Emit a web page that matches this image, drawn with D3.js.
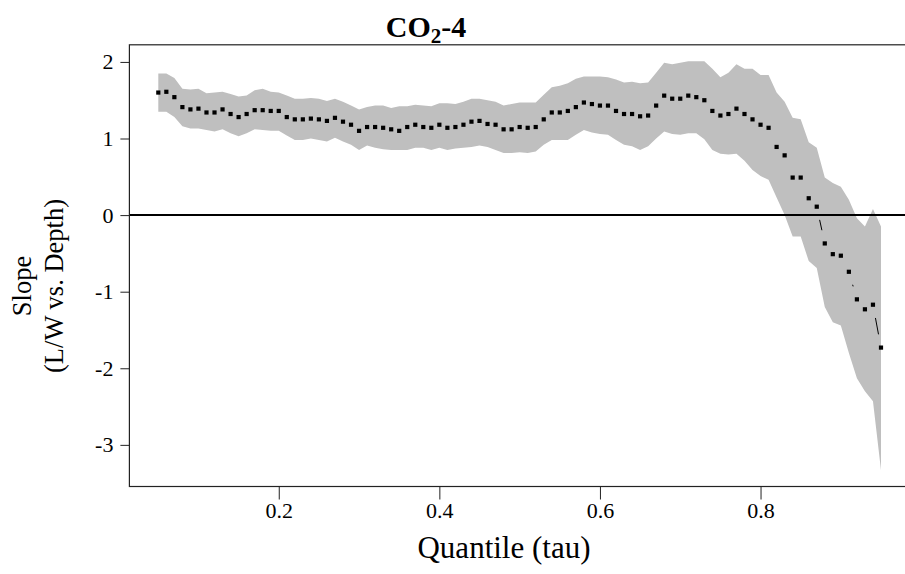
<!DOCTYPE html>
<html>
<head>
<meta charset="utf-8">
<script src="https://cdn.jsdelivr.net/npm/d3@7"></script>
<style>
  body { margin: 0; background: #fff; overflow: hidden; }
  text { font-family: "Liberation Serif", "Times New Roman", serif; }
</style>
</head>
<body>
<div id="rq"></div>
<script>
// quantiles and rq slope estimates with confidence band
var tau = [0.05, 0.06, 0.07, 0.08, 0.09, 0.10, 0.11, 0.12, 0.13, 0.14,
           0.15, 0.16, 0.17, 0.18, 0.19, 0.20, 0.21, 0.22, 0.23, 0.24,
           0.25, 0.26, 0.27, 0.28, 0.29, 0.30, 0.31, 0.32, 0.33, 0.34,
           0.35, 0.36, 0.37, 0.38, 0.39, 0.40, 0.41, 0.42, 0.43, 0.44,
           0.45, 0.46, 0.47, 0.48, 0.49, 0.50, 0.51, 0.52, 0.53, 0.54,
           0.55, 0.56, 0.57, 0.58, 0.59, 0.60, 0.61, 0.62, 0.63, 0.64,
           0.65, 0.66, 0.67, 0.68, 0.69, 0.70, 0.71, 0.72, 0.73, 0.74,
           0.75, 0.76, 0.77, 0.78, 0.79, 0.80, 0.81, 0.82, 0.83, 0.84,
           0.85, 0.86, 0.87, 0.88, 0.89, 0.90, 0.91, 0.92, 0.93, 0.94, 0.95];

var slope = [1.60, 1.61, 1.54, 1.41, 1.38, 1.39, 1.34, 1.34, 1.38, 1.32,
             1.28, 1.32, 1.37, 1.37, 1.36, 1.36, 1.28, 1.25, 1.25, 1.26,
             1.25, 1.23, 1.27, 1.22, 1.18, 1.10, 1.15, 1.15, 1.14, 1.12,
             1.10, 1.15, 1.18, 1.15, 1.14, 1.18, 1.14, 1.15, 1.18, 1.22,
             1.23, 1.19, 1.18, 1.12, 1.12, 1.15, 1.14, 1.15, 1.25, 1.34,
             1.34, 1.36, 1.41, 1.47, 1.45, 1.43, 1.43, 1.36, 1.32, 1.32,
             1.29, 1.30, 1.43, 1.56, 1.52, 1.52, 1.56, 1.54, 1.50, 1.36,
             1.30, 1.32, 1.39, 1.32, 1.25, 1.18, 1.14, 0.89, 0.78, 0.49,
             0.49, 0.22, 0.11, -0.37, -0.51, -0.53, -0.74, -1.10, -1.23, -1.17, -1.73];

var upper = [1.85, 1.85, 1.79, 1.65, 1.64, 1.65, 1.59, 1.60, 1.61, 1.58,
             1.55, 1.56, 1.63, 1.65, 1.61, 1.60, 1.56, 1.52, 1.52, 1.53,
             1.52, 1.49, 1.52, 1.48, 1.43, 1.38, 1.41, 1.43, 1.43, 1.40,
             1.42, 1.42, 1.44, 1.43, 1.42, 1.46, 1.46, 1.45, 1.48, 1.52,
             1.52, 1.50, 1.48, 1.43, 1.45, 1.47, 1.47, 1.47, 1.57, 1.67,
             1.69, 1.72, 1.78, 1.81, 1.81, 1.81, 1.80, 1.77, 1.73, 1.74,
             1.72, 1.73, 1.86, 1.99, 1.97, 1.99, 2.01, 2.01, 2.01, 1.91,
             1.80, 1.86, 1.97, 1.91, 1.91, 1.83, 1.83, 1.60, 1.48, 1.27,
             1.25, 0.95, 0.88, 0.49, 0.42, 0.37, 0.20, -0.04, -0.15, 0.08, -0.15];

var lower = [1.35, 1.35, 1.28, 1.16, 1.13, 1.13, 1.11, 1.09, 1.12, 1.07,
             1.03, 1.07, 1.12, 1.11, 1.10, 1.10, 1.04, 0.98, 0.98, 1.00,
             0.98, 0.96, 1.01, 0.96, 0.92, 0.85, 0.91, 0.88, 0.86, 0.85,
             0.85, 0.85, 0.88, 0.88, 0.85, 0.88, 0.85, 0.87, 0.88, 0.89,
             0.91, 0.89, 0.85, 0.81, 0.81, 0.82, 0.81, 0.83, 0.92, 0.98,
             0.98, 0.98, 1.05, 1.11, 1.08, 1.06, 1.05, 0.98, 0.92, 0.90,
             0.85, 0.90, 1.00, 1.09, 1.06, 1.05, 1.07, 1.07, 0.99, 0.85,
             0.80, 0.79, 0.80, 0.71, 0.59, 0.51, 0.46, 0.23, 0.00, -0.28,
             -0.28, -0.60, -0.69, -1.20, -1.40, -1.44, -1.80, -2.13, -2.30, -2.43, -3.33];

var xTicks = [0.2, 0.4, 0.6, 0.8];
var yTicks = [-3, -2, -1, 0, 1, 2];

var width = 905;
var height = 574;

// plot region (right edge runs past the window, as in the original)
var pLeft = 129.4, pRight = 909.9, pTop = 44.8, pBottom = 486.5;

// R style limits: data range widened by 4% on each side
function pad(ext) {
    var d = (ext[1] - ext[0]) * 0.04;
    return [ext[0] - d, ext[1] + d];
}

var x = d3.scaleLinear().domain(pad(d3.extent(tau))).range([pLeft, pRight]);
var y = d3.scaleLinear().domain(pad([d3.min(lower), d3.max(upper)])).range([pBottom, pTop]);

var svg = d3.select("#rq")
    .append("svg")
    .attr("width", width)
    .attr("height", height)
    .style("display", "block");

svg.append("clipPath")
    .attr("id", "plotclip")
    .append("rect")
    .attr("x", pLeft).attr("y", pTop)
    .attr("width", pRight - pLeft).attr("height", pBottom - pTop);

var plot = svg.append("g").attr("clip-path", "url(#plotclip)");

// confidence band
var band = d3.area()
    .x(function(d, i) { return x(tau[i]); })
    .y0(function(d, i) { return y(lower[i]); })
    .y1(function(d, i) { return y(upper[i]); });

plot.append("path")
    .datum(tau)
    .attr("d", band)
    .style("fill", "#bfbfbf")
    .style("stroke", "none");

// zero line
plot.append("line")
    .attr("x1", pLeft).attr("x2", pRight)
    .attr("y1", y(0)).attr("y2", y(0))
    .style("stroke", "#000")
    .style("stroke-width", 2);

// type = "b": segments between points, leaving a gap round each point
var gap = 13.5;
var segs = [];
for (var i = 1; i < tau.length; i++) {
    var x0 = x(tau[i - 1]), y0 = y(slope[i - 1]);
    var x1 = x(tau[i]), y1 = y(slope[i]);
    var len = Math.hypot(x1 - x0, y1 - y0);
    if (len > 2 * gap) {
        var ux = (x1 - x0) / len, uy = (y1 - y0) / len;
        segs.push([x0 + ux * gap, y0 + uy * gap, x1 - ux * gap, y1 - uy * gap]);
    }
}

plot.selectAll("line.seg")
    .data(segs)
    .enter()
    .append("line")
    .attr("class", "seg")
    .attr("x1", function(d) { return d[0]; })
    .attr("y1", function(d) { return d[1]; })
    .attr("x2", function(d) { return d[2]; })
    .attr("y2", function(d) { return d[3]; })
    .style("stroke", "#000")
    .style("stroke-width", 1);

var sq = 4.2;
plot.selectAll("rect.pt")
    .data(slope)
    .enter()
    .append("rect")
    .attr("class", "pt")
    .attr("x", function(d, i) { return x(tau[i]) - sq / 2; })
    .attr("y", function(d) { return y(d) - sq / 2; })
    .attr("width", sq)
    .attr("height", sq)
    .style("fill", "#000");

// box
svg.append("rect")
    .attr("x", pLeft).attr("y", pTop)
    .attr("width", pRight - pLeft).attr("height", pBottom - pTop)
    .style("fill", "none")
    .style("stroke", "#222")
    .style("stroke-width", 1.2);

// axes
svg.append("g")
    .attr("transform", "translate(" + pLeft + ",0)")
    .call(d3.axisLeft(y).tickValues(yTicks).tickSize(9).tickPadding(7)
        .tickFormat(function(d) { return String(d); }));

svg.append("g")
    .attr("transform", "translate(0," + pBottom + ")")
    .call(d3.axisBottom(x).tickValues(xTicks).tickSize(13).tickPadding(3)
        .tickFormat(function(d) { return d.toFixed(1); }));

svg.selectAll(".domain").remove();
svg.selectAll(".tick line").style("stroke", "#222");
svg.selectAll(".tick text")
    .style("font-family", "Liberation Serif")
    .style("font-size", "22px")
    .style("fill", "#000");

// labels
svg.append("text")
    .attr("x", 504)
    .attr("y", 558)
    .attr("text-anchor", "middle")
    .style("font-size", "31px")
    .text("Quantile (tau)");

var ylab = svg.append("text")
    .attr("transform", "translate(0,286) rotate(-90)")
    .attr("text-anchor", "middle")
    .style("font-size", "26.5px");
ylab.append("tspan").attr("x", 0).attr("y", 31).text("Slope");
ylab.append("tspan").attr("x", 0).attr("y", 63).text("(L/W vs. Depth)");

var title = svg.append("text")
    .attr("x", 426)
    .attr("y", 37)
    .attr("text-anchor", "middle")
    .style("font-size", "30px")
    .style("font-weight", "bold");
title.append("tspan").text("CO");
title.append("tspan").attr("dy", 6).style("font-size", "21px").text("2");
title.append("tspan").attr("dy", -6).text("-4");
</script>
</body>
</html>
